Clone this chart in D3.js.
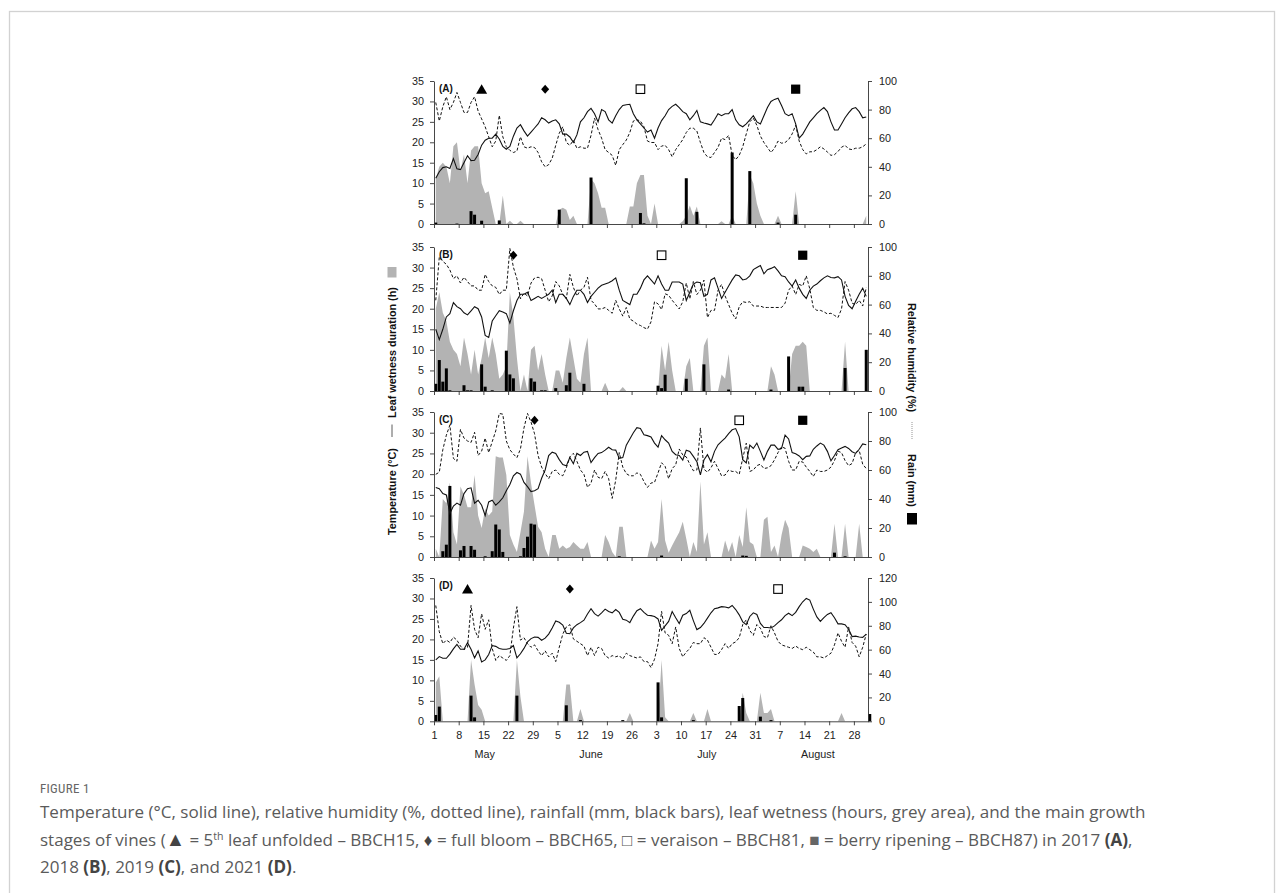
<!DOCTYPE html>
<html><head><meta charset="utf-8">
<script src="https://cdn.jsdelivr.net/npm/d3@7"></script>
<style>body{margin:0;background:#fff}svg{display:block}</style>
</head><body>
<svg id="c" width="1284" height="893"></svg>
<script>
// ---------- DATA (daily values, 1 May – 31 Aug; index 0 = 1 May) ----------
const tempA=[11.2,12.8,13.8,14,13.6,16,13.5,13.3,15,16.7,15.5,15.6,17,19.3,20.5,21,21,22,20.8,19,18.3,19,21.5,23.5,24.3,22.8,21.5,22.5,23.5,24.5,26,25.5,24.7,25.2,25.5,24.5,22,22,21.3,20,21.8,25,26,27.5,28.3,27,25,28,27.5,25.5,24.7,26.5,28,29,29.2,29.3,27,25.5,24.5,23.5,22.5,23,21,23.5,25.3,26.5,28,28.8,29.3,28.5,27.5,27,25.5,26.5,27.8,25,24.7,24.5,24.2,25.5,27,26.5,27,27,28,25.5,24.3,23.8,24.5,25.5,26.5,25,24.5,26.5,28.5,30,30.5,30.8,29,27,26.5,27,24.5,21,22,23.5,25,26,27,27.8,28.5,27.5,25,23,23,24.5,26,27.2,28.2,28.5,27.5,26,26.2];
const rhA=[85,72,82,89,80,85,92,85,78,78,85,89,79,73.5,68,61,54,58,76,61,54,51.5,50,51,61,54,53,54,53.5,50,43.5,40,41.5,46,55,63.5,68,57,55,58.5,53,54,53,53,62,74,66,60,52,50,48,41,52,55.5,58.7,64,72,73,72,68,58,57,57,52,54.5,55,52,47,52,55.5,59,64,67,67,65,57,50,47,46.5,50,53.6,60,59,62,48,45,48,54,63,71.5,74,69,61.5,57,53.5,50,53,58,56.5,57,59,63,69,58,52,49,50.5,50.5,52,54,52.5,50.3,48,48.5,50.7,53.7,55,52.5,52,53,53,54,56];
const leafWetA=[11,14,15,14,10,19,20,13,17,10,18,19,19,10,7.5,8,4,0,0,7,0,0.8,0,0,0.8,0,0,0,0,0,0,0,0,0,0,3.5,4,3.5,1,2,0,0,0,0,11,10,7.5,4,4,0,0,0,0,0,0,4.3,4.3,10,12,12,2,0,5,0,0,0,0,0,0,0,0.7,2,4.5,2,4.3,0,0,0,0,0,0,0.7,0,0,2,0,0,0,0,12,10,5,2,0,0,0,0,2,0,0,0,0,8,0,0,0,0,0,0,0,0,0,0,0,0,0,0,0,0,0,0,0,2];
const rainA=[1,0,0,0,0,0,0.3,0,0,0,9,6.5,0,2.3,0,0,0,0,2.5,0,0,0,0,0,0,0,0,0,0,0,0,0,0,0,0,10,0,0,0,0,0,0,0,0,32.5,0,0,0,0,0,0,0,0,0,0,0,0,0,7.7,0.5,0,0,0,0,0,0,0,0,0,0,0,32,0,0,8.5,0,0,0,0,0,0,0,0,0,50,0,0,0,0,37,0,0,0,0,0,0,0,1,0,0,0,0,6.5,0,0,0,0,0,0,0,0,0,0,0,0,0,0,0,0,0,0,0,0];

const tempB=[15,12.5,15,18,18.8,21.5,20.5,20,19,18.5,19.5,20.5,20,18,13.5,13,17,18.3,19.5,19.2,18.8,16.5,19.5,22,23.5,23.5,24,22,22.5,23,22.5,23,23.5,24.5,21.5,23.5,23.5,22.5,21,23,24.5,24.5,23.5,21.5,23,24,25,25.7,26,26.3,26.8,27.5,24.5,22,21.5,21,23.5,23.5,25,27,28,27,26,28,26,24.5,24.5,26.5,26.5,26.5,26,22,24,26,26.5,26.3,23,23.5,27,27.5,25,22.5,24,25.5,27,28.2,28,27,27.2,28,29.5,30,30.5,28.5,29.5,29.8,30.2,29.2,28,27.8,26.5,25.5,27,25,23.5,22.5,24.5,25.5,26,26.8,27.5,28,27.6,27.5,27.8,27,23,20.8,20,21.8,23.5,25,23];
const rhB=[63,93,90,88,84,78,80,75,79,76,73,73,70,70,81,76,73,72,67,70,70,99,86,78,64,68,66,75,78.5,79,78,70,62,66,76,73,67,64,81,72,66,70,72,79,63,60.5,57,57,58,56,54,63,57,52,58,50,48.5,46.5,45.5,44,43,48,62,60.5,56.5,67.5,66.5,63,60,57,62,75,64,76,67,70,77,51,56,56,70,74,66,60,54,50,58.5,62,61.5,62,59,59,59,58,58,58,58,58,58,61,70,73,67,74,73,80,71,58,56,56,55,53.5,54,52.5,51,57,76,70,61,60,63,59,72];
const leafWetB=[20,24,19,17,12,10,9,6,13,9,4,10,4,8,13,8,13,9,3,4,6,24,18,8,0,4,0,10,11,5,9,4,0,0,5,5,2,8,13,8,3,2,9,13,0,0,0,0,2,0,0,0,0,1,0,0,0,0,0,0,0,0,0,0,11,5,12,5,0,0,0,6,8,0,0,0,11,13,0,0,0,4,3,9,0,0,0,0,0,0,0,0,0,0,0,6,4,0,0,0,0,9,11,11,12,11,0,0,0,0,0,0,0,0,0,0,12,0,0,0,0,0,0];
const rainB=[5,21.5,6.5,15.7,0.5,0,0,0,4,0.5,0.5,0,0,18.5,3,0,0.5,0,0,0,28,11.5,8.8,0,0,0,0,8.8,6.5,0,0.5,0.5,0,0,2,0,0,4,12.7,0,0,0,5,0,0,0,0,0,0,0,0,0,0,0,0,0,0,0,0,0,0,0,0,3.7,2,11.3,0,0,0,0,0,8.5,0,0,0,0,18.5,0,0,0,0,0,0,1,0,0,0,0,0,0,0,0,0,0,0,1,0,0,0,0,24,0,0,3,3,0,0,0,0,0,0,0,0,0,0,0,16,0,0,0,0,0,28.6];

const tempC=[16.8,16.5,15.3,15,10.5,12.3,13,12.5,15.3,16.5,16.7,13,13.7,12.5,10,13.3,13.7,12.5,13.3,14.3,16,17.5,19.6,20.4,20,18,17,15.8,16,16.5,19,21,24.5,25.3,25,23.5,22.3,22,24,22.5,25,24.5,25.3,25.5,22.8,24,25,25.2,25.8,26.5,25.9,25.8,23.8,24,27,28.5,30,31.2,31,29.5,29.3,29,27.5,26.5,29.3,28.3,27.5,25.5,24.7,24.5,23.4,25.8,25.5,24.3,23,19.8,23.4,24.7,23,25.5,27.1,27.9,28.7,29.8,30.7,31,29,23.5,22.7,27,26.2,27.5,25.5,23.4,25.5,27,27,26,26.2,29.4,28.5,25.2,24.9,24.4,23.5,24.3,24.4,26,26.8,27.5,27,25.5,23.2,24.5,25.9,26.3,26.7,26.2,25.4,25,26,27.3,27.1];
const rhC=[57,58.5,74,84,91,68,66,88,82,80,79,86,70,73,82,72,79.5,87,99,98.5,80,74,71,68.5,74.5,89,99,93,85,70,62,57.5,54,59,60,57,56,61.5,69,71.5,66,60,57,48,51,60,55,54,59,54,40.4,53,72,62,57.5,56,56,58,57,52,48,51,51.5,58,65,62.5,54,61,63.5,74.5,70.4,69,64,59.5,60,89,60.5,58.5,61.5,66,61,56,56.5,60,59,59,57,68,78.5,59,60,63,64,61,61.5,63,67,72,76,75,66,60,60,66,65.5,62,59,55.5,60,59,59,60,62,66.5,73,72,66.5,63,64.5,72,73.5,64,61];
const leafWetC=[2,0,14,13,18,6,3,17,15,12,12,19.8,10,7,11.7,10,11,24.3,24,24,19.8,5.3,3,1.2,6,11,24.3,17.8,12.5,7.3,6,2,0,5.3,5.3,2,2.8,2,2.4,3.6,2.8,2,2,3.6,0,0,0,0,5.3,3.6,1.2,0,7.3,7.3,0,0,0,0,0,0,0,4,2,3.6,14,4,1,2.8,4.4,6,8.5,4.4,0,3.6,1.2,18.2,3,6,0,0,0,0,4,1.2,3.6,0,5.3,2.4,12,3.6,3,0,0,9,9.7,1.2,2.8,0,5.3,9,7,0,0,0,2.8,2.4,2,1.2,2,0,0,0,0,8,0,0,8,0,0,0,8,0,0];
const rainC=[0,0,4,8.5,49,0,0,4.6,7.6,0,7.6,5,0,0,0.5,0,4,22.4,19,3.5,0,0,0,0,0.5,6.2,14,23,22.4,0,0,0,0,0,0,0,0,0,0,0,0,0,0,0,0,0,0,0,0,0,0,0,0.5,0,0,0,0,0,0,0,0,0,0,0,1,0,0,0,0,0,0,0,0,0,0,0,0,0,0,0,0,0,0,0,0,0,0,1,0.8,0,0,0,0,0,0,0,0,0,0,0,0,0,0,0,0,0,0,0,0,0,0,0,0,3,0,0,0.5,0,0,0,0,0,0];

const tempD=[15,15.8,15.4,15.4,16.4,17.7,18.8,17.6,17.6,19.2,17.6,15.5,17.2,14.5,15,16.3,18.5,18.3,17.8,17.6,17.6,17.8,18.5,15.5,16.5,17.8,19.4,20.2,20.6,20.5,19.8,20.3,21.3,22.8,24.5,24.2,23.5,21.5,21.4,22.8,23.6,24.1,24.7,26.2,27.5,26.3,25.7,26.5,27.4,26.8,26.5,27.3,26.6,24.9,24.7,24.1,25.7,27,27.5,26.6,25.9,25.8,25.6,25,22.2,23.3,24.4,26.8,25.3,23.9,25.9,26.3,27.1,24.6,22.4,22.9,23.9,25.2,26.5,27.5,27.7,28,27.9,27.7,28.3,27.3,26,24.3,23.6,25.6,26.5,26.1,23.9,22.9,22.9,22.8,23.3,24.1,24.8,25.8,26.4,25.8,26.6,28,29.2,30,29.6,27.4,25.5,24.4,25.3,26.1,26.5,25.3,23.8,23.8,23.6,22.5,20.7,20.8,20.6,20.5,21.3];
const rhD=[97,75,65,68,66,70.5,68,63,60,62,97,77,70,90,77,85,61,51,55,53,51,55,78,96,68,70,65,62,64,59,55,59,54,57,50,62,73,79,81,69,67,65,63,55,62,55,62,61,55,53,55,54,55,52,57,55,54,53,54,50,50,45,52,65,92,74,72,65,79,61,54,58,61,66,65,65,70,68,62,56,56,60,65,61,65,66.5,70,81,85,76,72,81,78,71,70,80,74,67,64,63,62,61,63,61,60,62,60,58,54,54,53,55,57,64,74,67,62,79,66,63,54,62,73];
const leafWetD=[9.5,11,0,0,0,0,0,0,0,0,15,9,4,2.8,0,0,0,0,0,0,0,0,0,15,6,0,0,0,0,0,0,0,0,0,0,0,0,9,9,0,0,3,0,0,0,0,0,0,0,0,0,0,0,0,0,2,0,0,0,0,0,0,0,0,15,1,0,0,0,0,0,0,0,2,0,0,0,3,0,0,0,0,0,0,0,0,0,7,2,0,0,0,7,2,2,3,0,0,0,0,0,0,0,0,0,0,0,0,0,0,0,0,0,0,0,2,0,0,0,0,0,0,0];
const rainD=[5.3,12.3,0,0,0,0,0,0,0,0,21.5,3.3,0,0,0,0,0,0,0,0,0,0,0,21.5,0,0,0,0,0,0,0,0,0,0,0,0,0,13.4,0,0,0,1,0,0,0,0,0,0,0,0,0,0,0,1,0,0,0,0,0,0,0,0,0,32.6,3.3,0,0,0,0,0,0,0,0,1,0,0,0,0,0,0,0,0,0,0,0,0,12.8,19.5,0,0,0,0,3.9,0,0,1,0,0,0,0,0,0,0,0,0,0,0,0,0,0,0,0,0,0,0,0,0,0,0,0,0,0,0,6.1,0];

// growth stages: [day index, kind]  (tri = BBCH15, dia = BBCH65, open = BBCH81, fill = BBCH87)
const stagesA=[[13,"tri"],[31,"dia"],[58,"open"],[102,"fill"]];
const stagesB=[[22,"dia"],[64,"open"],[104,"fill"]];
const stagesC=[[28,"dia"],[86,"open"],[104,"fill"]];
const stagesD=[[9,"tri"],[38,"dia"],[97,"open"]];

const panelLabels=["(A)","(B)","(C)","(D)"];
const leftTicks=[0,5,10,15,20,25,30,35];
const rightMax=[100,100,100,120];
const xTickDays=[0,7,14,21,28,35,42,49,56,63,70,77,84,91,98,105,112,119];
const xTickLabels=["1","8","15","22","29","5","12","19","26","3","10","17","24","31","7","14","21","28"];
const months=["May","June","July","August"];
const monthPos=[14.4,44.5,77.3,108.8];
const nDays=123;

// ---------- DRAW ----------
const svg=d3.select("#c");
const FONT="'Liberation Sans', Arial, sans-serif";
svg.append("rect").attr("x",9.5).attr("y",11.5).attr("width",1265).attr("height",920)
  .attr("fill","none").attr("stroke","#d2d2d2").attr("stroke-width",1.3);

const x=d3.scaleLinear().domain([0,nDays]).range([434,868]);
const layout=[{top:81,bottom:224},{top:247,bottom:391},{top:412,bottom:557},{top:578,bottom:721.3}];
const series=[
  {temp:tempA,rh:rhA,lw:leafWetA,rain:rainA,st:stagesA,mk:33},
  {temp:tempB,rh:rhB,lw:leafWetB,rain:rainB,st:stagesB,mk:33},
  {temp:tempC,rh:rhC,lw:leafWetC,rain:rainC,st:stagesC,mk:33},
  {temp:tempD,rh:rhD,lw:leafWetD,rain:rainD,st:stagesD,mk:32.3}
];
const xi=i=>x(i+0.5);

function styleAxis(g){
  g.select(".domain").attr("stroke","#333").attr("stroke-width",0.9);
  g.selectAll(".tick line").attr("stroke","#333").attr("stroke-width",0.9);
  g.selectAll("text").attr("font-family",FONT).attr("font-size",10.8).attr("fill","#222");
}

series.forEach((s,k)=>{
  const L=layout[k];
  const g=svg.append("g");
  const yL=d3.scaleLinear().domain([0,35]).range([L.bottom,L.top]);
  const yR=d3.scaleLinear().domain([0,rightMax[k]]).range([L.bottom,L.top]);

  g.append("path").datum(s.lw)
    .attr("d",d3.area().x((d,i)=>xi(i)).y0(yL(0)).y1(d=>yL(d)))
    .attr("fill","#b3b3b3");

  g.selectAll("rect.rain").data(s.rain.map((v,i)=>({v,i})).filter(d=>d.v>0)).join("rect")
    .attr("class","rain")
    .attr("x",d=>xi(d.i)-1.5).attr("width",3)
    .attr("y",d=>yR(d.v)).attr("height",d=>yR(0)-yR(d.v)).attr("fill","#000");

  g.append("path").datum(s.rh)
    .attr("d",d3.line().x((d,i)=>xi(i)).y(d=>yR(d)))
    .attr("fill","none").attr("stroke","#111").attr("stroke-width",1).attr("stroke-dasharray","3,2");

  g.append("path").datum(s.temp)
    .attr("d",d3.line().x((d,i)=>xi(i)).y(d=>yL(d)))
    .attr("fill","none").attr("stroke","#111").attr("stroke-width",1.1);

  const ax=g.append("g").attr("transform",`translate(0,${yL(0)})`)
    .call(d3.axisBottom(x).tickValues(xTickDays).tickSize(4).tickSizeOuter(0).tickPadding(6)
      .tickFormat((d,i)=>k===3?xTickLabels[i]:""));
  styleAxis(ax);
  const al=g.append("g").attr("transform",`translate(${x(0)},0)`)
    .call(d3.axisLeft(yL).tickValues(leftTicks).tickSize(4).tickSizeOuter(0).tickPadding(6));
  styleAxis(al);
  const ar=g.append("g").attr("transform",`translate(${x(nDays)},0)`)
    .call(d3.axisRight(yR).tickValues(d3.range(0,rightMax[k]+1,20)).tickSize(4).tickSizeOuter(0).tickPadding(7));
  styleAxis(ar);

  g.append("text").attr("x",x(0)+5).attr("y",L.top+11).text(panelLabels[k])
    .attr("font-family",FONT).attr("font-weight","bold").attr("font-size",10).attr("fill","#111");

  const my=yL(s.mk);
  s.st.forEach(([d,kind])=>{
    const cx=xi(d);
    if(kind==="tri"){
      g.append("path").attr("d",`M${cx},${my-5}L${cx+5.5},${my+4.5}L${cx-5.5},${my+4.5}Z`).attr("fill","#000");
    }else if(kind==="dia"){
      g.append("path").attr("d",`M${cx},${my-4.5}L${cx+4},${my}L${cx},${my+4.5}L${cx-4},${my}Z`).attr("fill","#000");
    }else if(kind==="open"){
      g.append("rect").attr("x",cx-4.3).attr("y",my-4.3).attr("width",8.6).attr("height",8.6)
        .attr("fill","#fff").attr("stroke","#000").attr("stroke-width",1.1);
    }else{
      g.append("rect").attr("x",cx-4.6).attr("y",my-4.6).attr("width",9.2).attr("height",9.2).attr("fill","#000");
    }
  });

  if(k===3){
    g.selectAll("text.month").data(months).join("text").attr("class","month")
      .attr("x",(d,i)=>x(monthPos[i])).attr("y",758).attr("text-anchor","middle")
      .attr("font-family",FONT).attr("font-size",10.8).attr("fill","#222").text(d=>d);
  }
});

// axis titles
const lab=(txt,cx,cy,rot)=>svg.append("text").attr("transform",`translate(${cx},${cy}) rotate(${rot})`)
  .attr("text-anchor","middle").attr("dominant-baseline","central")
  .attr("font-family",FONT).attr("font-weight","bold").attr("font-size",10.8).attr("fill","#111").text(txt);
svg.append("rect").attr("x",387.5).attr("y",267).attr("width",9).attr("height",10.5).attr("fill","#b3b3b3");
lab("Leaf wetness duration (h)",392,352.5,-90);
svg.append("line").attr("x1",392).attr("x2",392).attr("y1",424.5).attr("y2",437).attr("stroke","#333").attr("stroke-width",0.8);
lab("Temperature (°C)",392,491.5,-90);
lab("Relative humidity (%)",912,357.5,90);
svg.append("line").attr("x1",912).attr("x2",912).attr("y1",422).attr("y2",440).attr("stroke","#888").attr("stroke-width",0.9).attr("stroke-dasharray","1,1");
lab("Rain (mm)",912,480.5,90);
svg.append("rect").attr("x",907).attr("y",513).attr("width",10).attr("height",11.5).attr("fill","#000");

// caption
svg.append("text").attr("x",40).attr("y",792.5).text("FIGURE 1")
  .attr("font-family","'Liberation Sans Narrow','Roboto Condensed','Liberation Sans',sans-serif")
  .attr("font-size",13).attr("fill","#666").attr("letter-spacing",0.3);
const CF="'Open Sans','Noto Sans',sans-serif";
const c1=svg.append("text").attr("x",40).attr("y",817.5).attr("font-family",CF).attr("font-size",15).attr("fill","#5a5a5a")
  .text("Temperature (°C, solid line), relative humidity (%, dotted line), rainfall (mm, black bars), leaf wetness (hours, grey area), and the main growth");
const fs=15*1106/c1.node().getComputedTextLength();
c1.attr("font-size",fs);
const c2=svg.append("text").attr("x",40).attr("y",845.5).attr("font-family",CF).attr("font-size",fs).attr("fill","#5a5a5a");
c2.append("tspan").text("stages of vines (");
c2.append("tspan").text("▲").attr("fill","#444").attr("font-size",fs*1.15);
c2.append("tspan").text(" = 5");
c2.append("tspan").text("th").attr("font-size",fs*0.62).attr("dy",-6);
c2.append("tspan").text(" leaf unfolded – BBCH15, ").attr("dy",6);
c2.append("tspan").text("♦").attr("fill","#444");
c2.append("tspan").text(" = full bloom – BBCH65, □ = veraison – BBCH81, ");
c2.append("tspan").text("■").attr("fill","#666");
c2.append("tspan").text(" = berry ripening – BBCH87) in 2017 ");
c2.append("tspan").text("(A)").attr("font-weight","bold").attr("fill","#444");
c2.append("tspan").text(",");
const c3=svg.append("text").attr("x",40).attr("y",873).attr("font-family",CF).attr("font-size",fs).attr("fill","#5a5a5a");
c3.append("tspan").text("2018 ");
c3.append("tspan").text("(B)").attr("font-weight","bold").attr("fill","#444");
c3.append("tspan").text(", 2019 ");
c3.append("tspan").text("(C)").attr("font-weight","bold").attr("fill","#444");
c3.append("tspan").text(", and 2021 ");
c3.append("tspan").text("(D)").attr("font-weight","bold").attr("fill","#444");
c3.append("tspan").text(".");
</script>
</body></html>
